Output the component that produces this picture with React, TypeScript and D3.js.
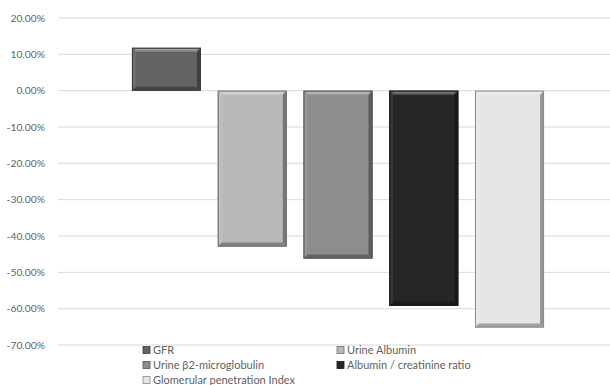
import React from "react";
import * as d3 from "d3";

const series = [
  "GFR",
  "Urine Albumin",
  "Urine β2-microglobulin",
  "Albumin / creatinine ratio",
  "Glomerular penetration Index",
];
const values = [0.118, -0.429, -0.462, -0.592, -0.652];
const colors = ["#636363", "#b9b9b9", "#8d8d8d", "#262626", "#e6e6e6"];
const ticks = [0.2, 0.1, 0, -0.1, -0.2, -0.3, -0.4, -0.5, -0.6, -0.7];

const W = 610;
const H = 385;
const FONT = "Lato, 'Open Sans', sans-serif";

function shade(c: string, k: number) {
  const col = d3.rgb(c);
  if (k > 0) return d3.interpolateRgb(col, "#ffffff")(k);
  return d3.interpolateRgb(col, "#000000")(-k);
}

export default function App() {
  const y = d3.scaleLinear().domain([0.2, -0.7]).range([18, 345]);
  const x = d3
    .scaleBand<string>()
    .domain(series)
    .range([123.6, 552.4])
    .paddingInner(0.195)
    .paddingOuter(0.0975);
  const fmt = (v: number) => (v * 100).toFixed(2) + "%";
  const b = 4;

  return (
    <svg width={W} height={H} style={{ position: "absolute", left: 0, top: 0, background: "#fff" }}>
      {ticks.map((t) => (
        <g key={t}>
          <line x1={58} x2={610} y1={y(t)} y2={y(t)} stroke="#d9d9d9" strokeWidth={1} />
          <text
            x={45}
            y={y(t)}
            dy="0.35em"
            textAnchor="end"
            fontFamily={FONT}
            fontSize={10.3}
            fill="#5f5f5f"
          >
            {fmt(t)}
          </text>
        </g>
      ))}
      {series.map((s, i) => {
        const x0 = x(s)!;
        const w = x.bandwidth();
        const v = values[i];
        const y0 = Math.min(y(0), y(v));
        const h = Math.abs(y(v) - y(0));
        const x1 = x0 + w;
        const y1 = y0 + h;
        const c = colors[i];
        return (
          <g key={s}>
            <rect x={x0} y={y0} width={w} height={h} fill={c} />
            <polygon
              points={`${x0},${y0} ${x1},${y0} ${x1 - b},${y0 + b} ${x0 + b},${y0 + b}`}
              fill={shade(c, 0.25)}
            />
            <polygon
              points={`${x0},${y0} ${x0 + b},${y0 + b} ${x0 + b},${y1 - b} ${x0},${y1}`}
              fill={shade(c, 0.08)}
            />
            <polygon
              points={`${x1},${y0} ${x1},${y1} ${x1 - b},${y1 - b} ${x1 - b},${y0 + b}`}
              fill={shade(c, -0.35)}
            />
            <polygon
              points={`${x0},${y1} ${x1},${y1} ${x1 - b},${y1 - b} ${x0 + b},${y1 - b}`}
              fill={shade(c, -0.3)}
            />
            <line x1={x0 + b} x2={x1 - b} y1={y0 + 1.5} y2={y0 + 1.5} stroke={shade(c, 0.45)} strokeWidth={1} />
            <rect
              x={x0 + 0.5}
              y={y0 + 0.5}
              width={w - 1}
              height={h - 1}
              fill="none"
              stroke={shade(c, -0.4)}
              strokeWidth={1}
            />
          </g>
        );
      })}
      {series.map((s, i) => {
        const col = i % 2;
        const row = Math.floor(i / 2);
        const lx = col === 0 ? 143 : 337;
        const ly = 350 + row * 15;
        return (
          <g key={"lg" + s}>
            <rect x={lx} y={ly - 3.5} width={7} height={7} fill={colors[i]} stroke={shade(colors[i], -0.4)} strokeWidth={0.8} />
            <text x={lx + 10} y={ly} dy="0.35em" fontFamily={FONT} fontSize={11} fill="#5f5f5f">
              {s}
            </text>
          </g>
        );
      })}
    </svg>
  );
}
